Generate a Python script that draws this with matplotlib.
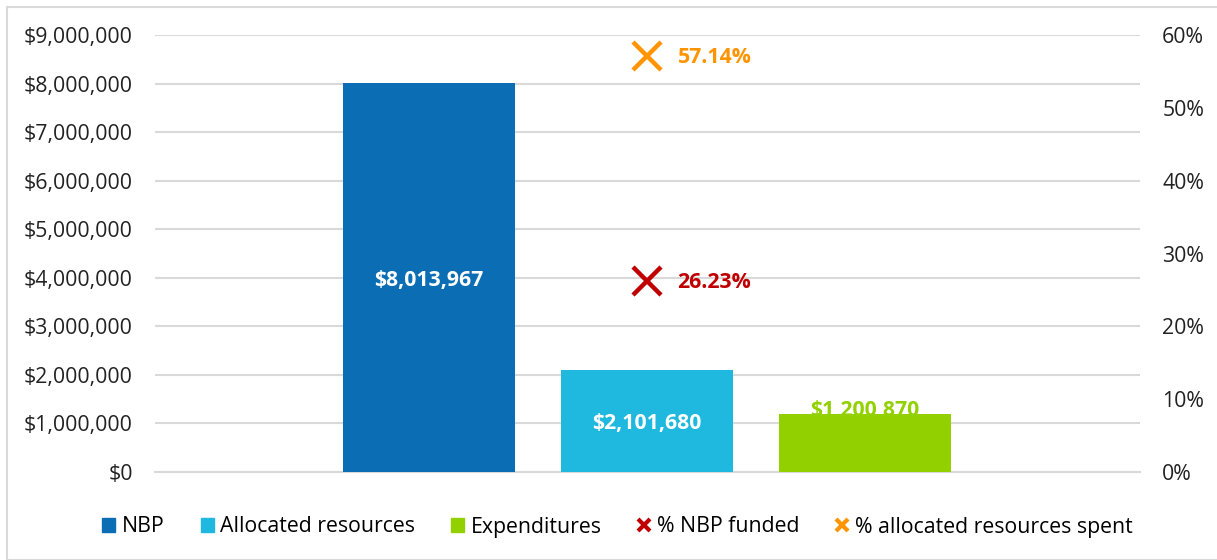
import matplotlib
matplotlib.use("Agg")
import matplotlib.pyplot as plt
import numpy as np
from matplotlib.patches import Rectangle
from matplotlib.lines import Line2D

plt.rcParams['font.family'] = ['Open Sans', 'DejaVu Sans']

bar_names = ["NBP", "Allocated resources", "Expenditures"]
bar_values = [8013967, 2101680, 1200870]
bar_colors = ["#0b6eb4", "#1fb8de", "#92d000"]
bar_labels = ["$8,013,967", "$2,101,680", "$1,200,870"]

pct_names = ["% NBP funded", "% allocated resources spent"]
pct_values = [0.2623, 0.5714]
pct_colors = ["#c00000", "#ff9300"]
pct_labels = ["26.23%", "57.14%"]

left_ticks = np.arange(0, 9000001, 1000000)
right_ticks = np.arange(0, 0.61, 0.1)

fig = plt.figure(figsize=(12.17, 5.6), dpi=100)
ax = fig.add_axes([155/1217, 1-472/560, (1140-155)/1217, (472-35)/560])
ax2 = ax.twinx()

x = np.arange(len(bar_values))
width = 172/218
ax.bar(x, bar_values, width=width, color=bar_colors, zorder=3)
fs = 15.3
for i, (v, lab) in enumerate(zip(bar_values, bar_labels)):
    if i < 2:
        ax.annotate(lab, (x[i], v/2), xytext=(0, -2), textcoords='offset points',
                    ha='center', va='center', color='white',
                    fontsize=fs, fontweight='bold', zorder=4)
    else:
        ax.annotate(lab, (x[i], v), xytext=(0, 2), textcoords='offset points',
                    ha='center', va='center', color=bar_colors[i],
                    fontsize=fs, fontweight='bold', zorder=4)

center = x[1]
for v, c, lab in zip(pct_values, pct_colors, pct_labels):
    ax2.plot([center], [v], marker='x', markersize=20, markeredgewidth=3.2,
             color=c, linestyle='none', zorder=5)
    ax2.annotate(lab, (center, v), xytext=(22, -1), textcoords='offset points',
                 ha='left', va='center', color=c, fontsize=fs, fontweight='bold')

ax.set_xlim((155-429)/218, (1140-429)/218)
ax.set_ylim(0, 9000000)
ax2.set_ylim(0, 0.6)
ax.set_yticks(left_ticks)
ax.set_yticklabels(["${:,.0f}".format(t) for t in left_ticks])
ax2.set_yticks(right_ticks)
ax2.set_yticklabels(["{:.0f}%".format(t*100) for t in right_ticks])
ax.set_xticks([])
ax.grid(axis='y', color='#d9d9d9', linewidth=1.5, zorder=0)
ax.set_axisbelow(True)
for a in (ax, ax2):
    for s in a.spines.values():
        s.set_visible(False)
    a.tick_params(axis='y', length=0, labelsize=fs, colors='#222222')
ax.spines['bottom'].set_visible(True)
ax.spines['bottom'].set_color('#d9d9d9')
ax.spines['bottom'].set_linewidth(1.5)
ax.tick_params(axis='y', pad=16)
ax2.tick_params(axis='y', pad=16)

handles = [Rectangle((0, 0), 1, 1, color=c) for c in bar_colors]
handles += [Line2D([], [], marker='x', color=c, linestyle='none', markersize=8,
                   markeredgewidth=3) for c in pct_colors]
fig.legend(handles, bar_names + pct_names, loc='center',
           bbox_to_anchor=(0.5 + 9/1217, 1-527/560),
           ncol=5, frameon=False, fontsize=fs, handlelength=0.62, handleheight=0.62,
           handletextpad=0.3, columnspacing=1.69)

fig.add_artist(Rectangle((7/1217, 0), 2, 1 - 7/560, transform=fig.transFigure,
                         fill=False, edgecolor='#d9d9d9', linewidth=1.5))
fig.savefig("out.png", dpi=100)
